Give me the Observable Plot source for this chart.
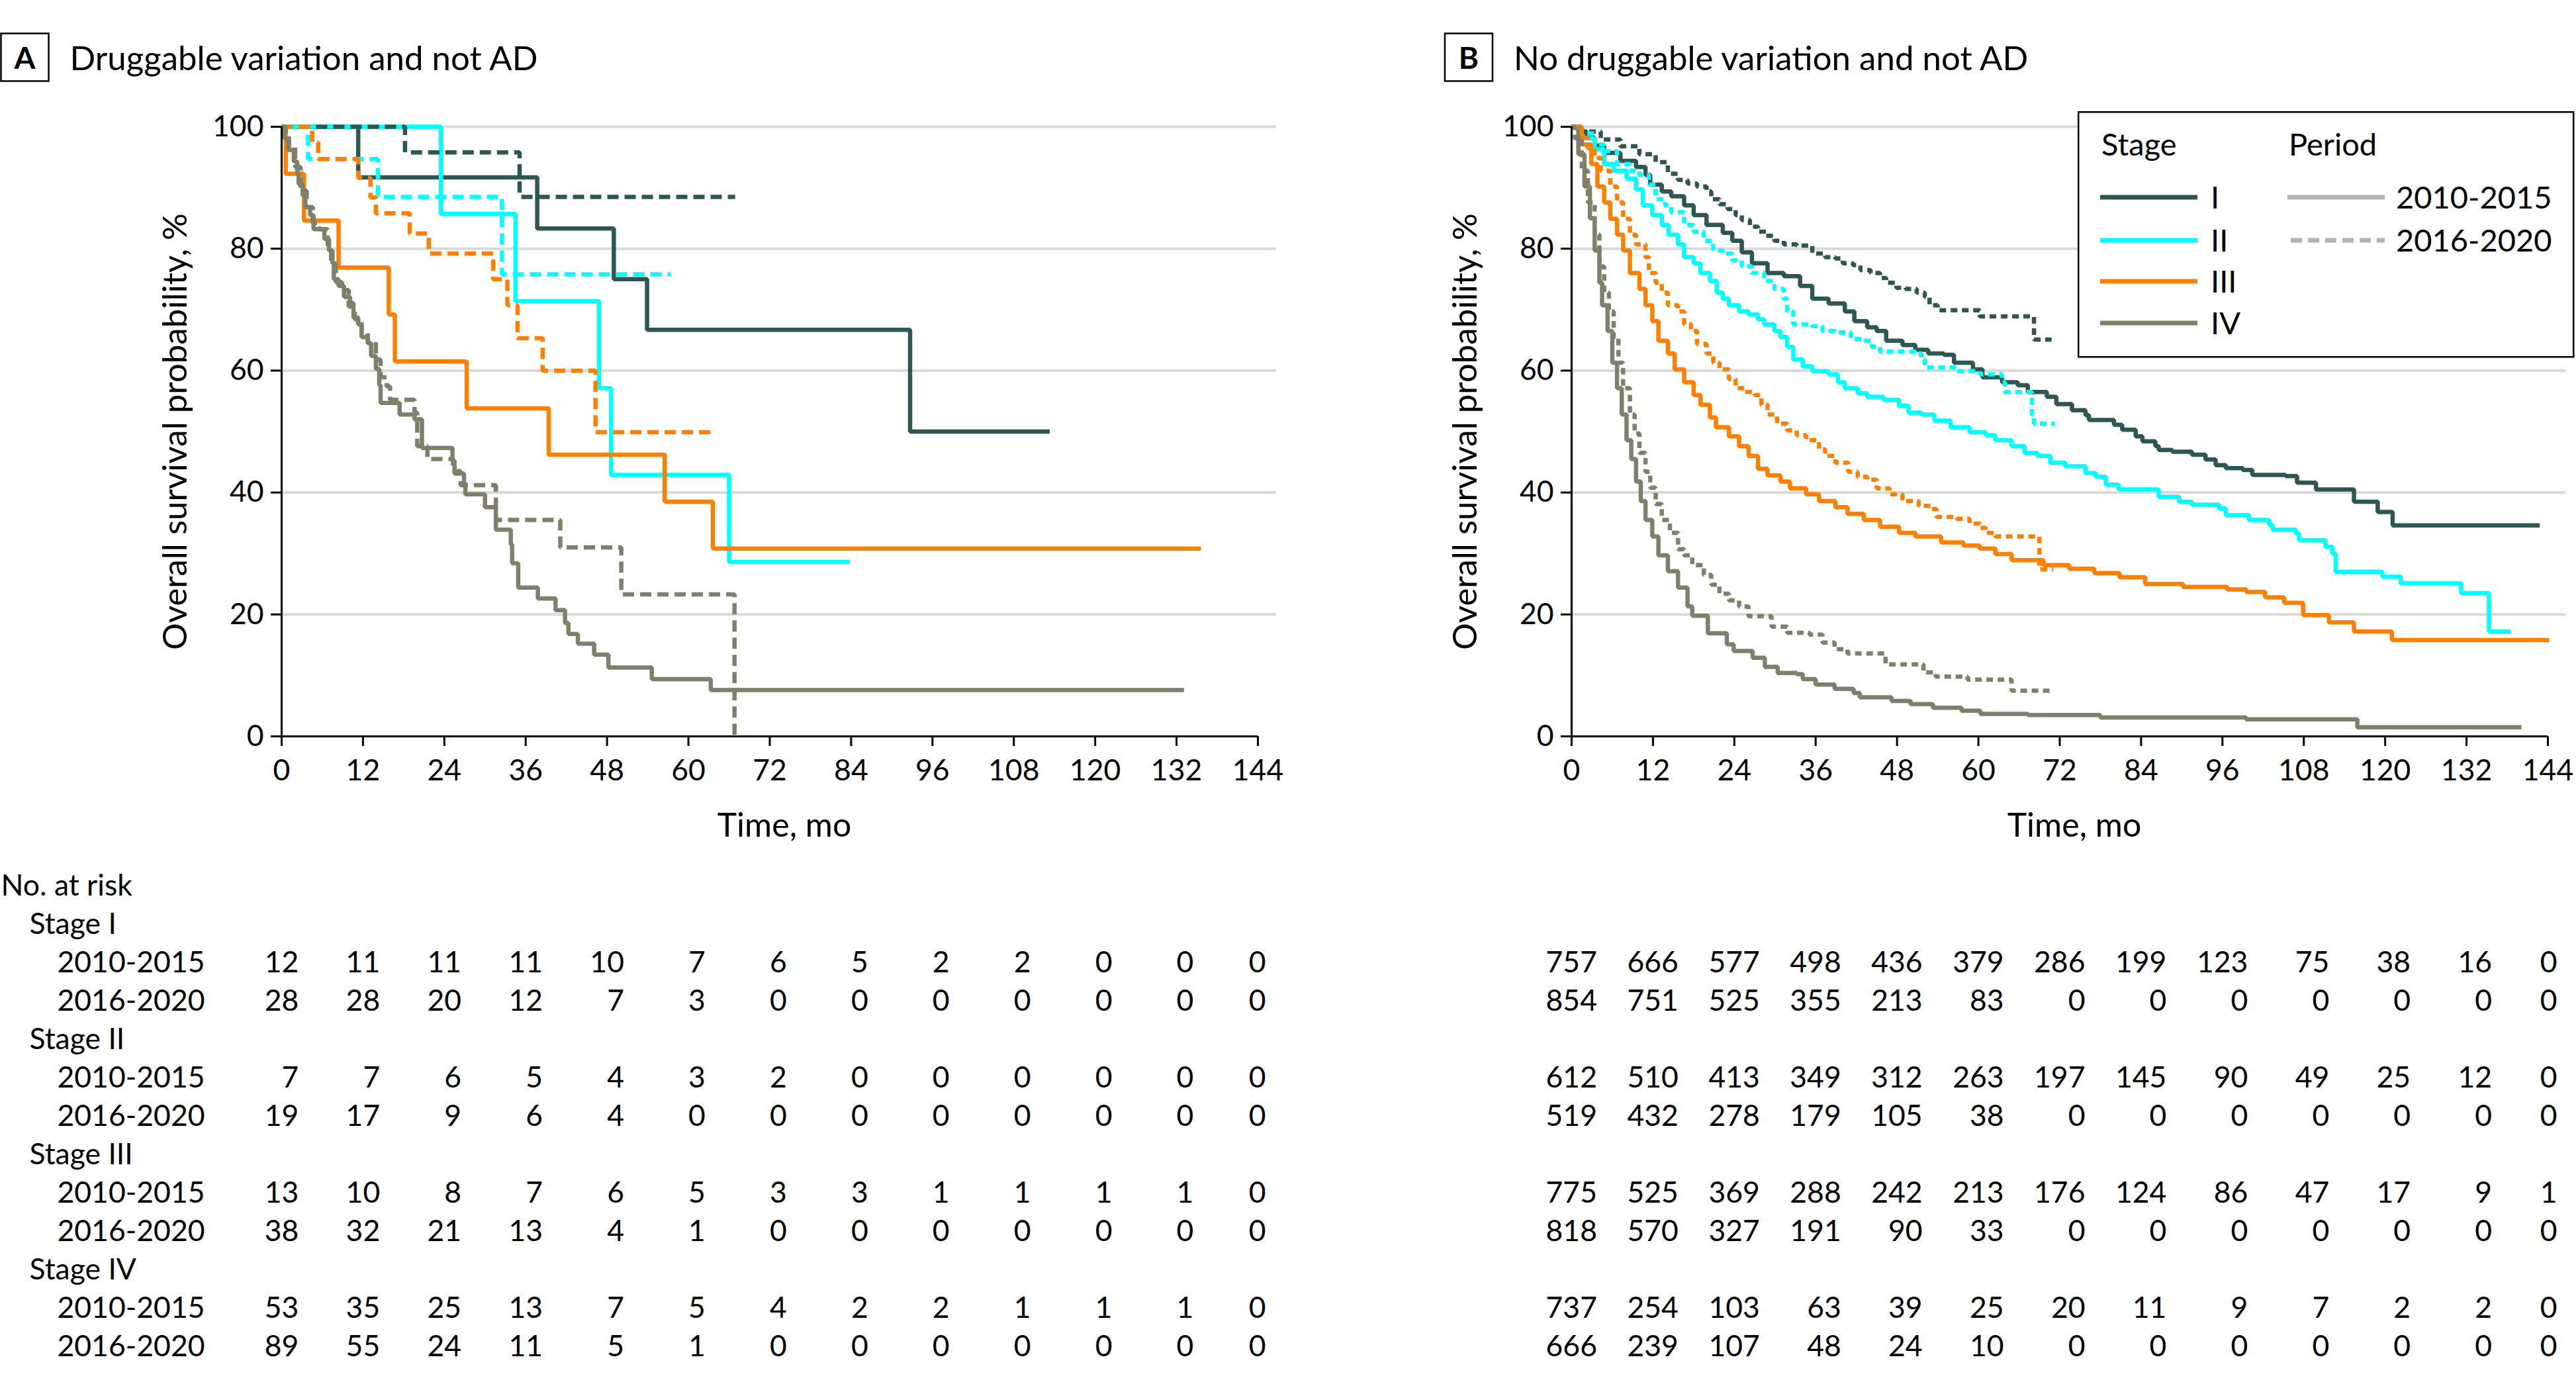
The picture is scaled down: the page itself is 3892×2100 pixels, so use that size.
<!DOCTYPE html>
<html>
<head>
<meta charset="utf-8">
<script src="https://cdn.jsdelivr.net/npm/d3@7"></script>
<script src="https://cdn.jsdelivr.net/npm/@observablehq/plot@0.6"></script>
<style>
  html, body { margin: 0; padding: 0; background: #fff; }
  #page { position: relative; width: 3892px; height: 2100px; overflow: hidden; background: #fff; font-family: Lato, sans-serif; }
  .abs { position: absolute; }
</style>
</head>
<body>
<div id="page"></div>
<script>
// ---------- axis ticks / categories ----------
const timeTicks = [0, 12, 24, 36, 48, 60, 72, 84, 96, 108, 120, 132, 144];
const survTicks = [0, 20, 40, 60, 80, 100];
const stages = ["I", "II", "III", "IV"];
const periods = ["2010-2015", "2016-2020"];
const stageColors = ["#2e5653", "#00ffff", "#ff8000", "#80806a"];
const periodColor = "#b3b3b3";
const titleA = "Druggable variation and not AD";
const titleB = "No druggable variation and not AD";

// ---------- Panel A curves: [month, survival %] ----------
const A_I_2010 = [[0,100],[11.3,91.7],[37.7,83.3],[49,75],[53.9,66.7],[92.7,50],[113.3,50]];
const A_I_2016 = [[0,100],[18.2,95.8],[35.1,88.5],[66.9,88.5]];
const A_II_2010 = [[0,100],[23.5,85.7],[34.5,71.4],[46.8,57.1],[48.6,42.9],[66,28.6],[83.8,28.6]];
const A_II_2016 = [[0,100],[3.9,94.7],[14.2,88.5],[32.5,75.8],[57.4,75.8]];
const A_III_2010 = [[0,100],[0.6,92.3],[3.3,84.6],[8.4,76.9],[15.8,69.2],[16.7,61.5],[27.3,53.8],[39.4,46.2],[56.5,38.5],[63.6,30.8],[135.6,30.8]];
const A_III_2016 = [[0,100],[4.5,97.4],[5.4,94.7],[11.3,91.6],[13.1,88.4],[13.9,85.8],[18.9,82.5],[21.7,79.2],[31.2,75.0],[33.3,70.7],[34.8,65.3],[38.5,60.0],[46.3,49.9],[63.3,49.9]];
const A_IV_2010 = [[0,100],[0.4,98.1],[1.0,96.2],[1.8,94.3],[2.3,92.5],[2.5,90.6],[3.1,88.7],[3.5,86.8],[4.2,85.5],[4.7,83.2],[6.3,81.6],[7.0,79.7],[7.5,77.6],[7.7,75.0],[8.4,73.9],[9.2,72.1],[10.1,71.1],[10.6,68.7],[11.3,67.6],[11.8,65.5],[12.7,64.5],[13.2,62.4],[13.9,60.3],[14.4,57.6],[14.6,54.7],[17.4,52.8],[19.6,52.0],[20.7,47.3],[25.2,45.2],[25.5,43.1],[26.9,41.5],[27.1,39.7],[30.0,37.6],[31.6,33.9],[33.8,31.5],[34.0,28.4],[34.9,24.4],[37.8,22.6],[40.4,20.7],[41.8,18.6],[42.3,16.8],[43.7,15.2],[46.1,13.4],[48.2,11.3],[54.6,9.4],[63.3,7.6],[133.1,7.6]];
const A_IV_2016 = [[0,100],[0.6,98.9],[1.1,96.6],[2.0,93.4],[2.8,89.5],[3.7,86.8],[4.6,84.2],[5.6,83.2],[6.8,80.5],[7.3,77.6],[8.0,74.5],[8.9,73.2],[9.9,70.5],[10.8,68.4],[11.8,66.3],[12.7,64.7],[13.9,61.8],[14.6,58.9],[15.5,57.4],[16.0,55.2],[19.6,53.1],[20.0,47.6],[21.5,45.5],[25.3,43.5],[26.4,41.2],[31.6,35.5],[41.1,31.0],[50.1,23.3],[66.8,0]];

// ---------- Panel B curves: [month, survival %] ----------
const B_I_2010 = [[0,100],[1.0,99.2],[2.2,98.2],[3.4,96.9],[4.8,95.7],[7.2,94.4],[9.5,93.4],[10.9,92.1],[11.6,90.5],[13.3,89.4],[14.7,88.6],[16.6,87.1],[18.0,85.5],[19.9,83.9],[22.3,82.6],[23.7,81.3],[25.1,79.4],[26.6,77.6],[28.9,76.0],[31.3,75.5],[33.7,73.9],[35.5,71.8],[37.9,71.0],[40.3,69.7],[41.7,68.1],[43.6,67.1],[45.0,66.5],[46.4,64.9],[48.8,64.2],[50.7,63.4],[52.6,62.8],[54.9,62.6],[56.4,61.3],[59.2,60.2],[60.6,58.9],[63.5,58.1],[65.8,57.6],[67.3,56.5],[70.1,55.7],[71.5,54.5],[73.8,53.5],[75.8,52.7],[76.3,51.9],[80.0,51.1],[81.2,50.3],[83.2,49.2],[84.2,48.4],[86.1,47.6],[86.6,47.0],[88.6,46.7],[91.5,46.2],[93.5,45.4],[95.0,44.5],[96.5,44.0],[99.0,43.7],[100.4,42.9],[105.3,42.7],[107.0,41.6],[109.8,40.5],[115.4,38.5],[118.9,36.8],[121.1,34.6],[142.8,34.6]];
const B_I_2016 = [[0,100],[1.5,99.2],[4.3,97.9],[7.2,96.8],[10.0,95.5],[12.4,94.2],[14.2,92.3],[15.7,91.3],[17.1,90.7],[18.5,90.2],[19.9,89.4],[20.6,88.1],[21.8,87.3],[23.0,86.5],[24.2,85.5],[25.1,84.7],[26.3,83.6],[27.5,82.8],[28.7,82.1],[29.9,81.3],[31.3,80.7],[33.2,80.5],[35.5,79.2],[37.4,78.6],[38.9,78.4],[40.0,77.6],[41.5,77.3],[42.6,76.5],[44.1,76.0],[45.5,75.2],[46.4,74.4],[47.9,73.6],[49.3,73.4],[50.9,72.8],[52.1,72.1],[52.8,70.7],[54.0,69.9],[60.2,68.9],[68.2,65.1],[70.8,65.1]];
const B_II_2010 = [[0,100],[1.5,98.1],[3.4,96.3],[4.8,93.9],[6.2,92.8],[8.1,91.5],[9.5,89.7],[10.5,87.1],[11.9,85.5],[13.3,83.9],[14.3,82.3],[15.7,80.7],[16.6,78.6],[18.0,77.6],[19.0,76.0],[20.4,74.7],[21.4,72.8],[22.3,71.8],[23.2,70.7],[24.7,69.7],[26.1,69.2],[27.5,68.4],[28.4,67.6],[29.9,66.5],[30.8,65.5],[31.8,63.9],[32.7,61.8],[34.1,60.7],[35.5,59.9],[37.9,59.4],[39.3,58.1],[40.3,57.1],[42.2,56.3],[43.6,55.7],[46.0,55.2],[48.3,54.2],[49.7,53.1],[51.6,52.8],[53.5,51.8],[55.9,50.7],[58.7,49.9],[61.1,49.4],[62.5,48.6],[64.9,47.6],[66.8,46.5],[68.7,46.0],[70.6,44.9],[72.8,44.3],[75.8,43.2],[77.3,42.6],[78.8,41.3],[80.7,40.5],[86.6,39.3],[89.6,38.5],[91.5,38.0],[95.5,37.4],[96.5,36.3],[99.9,35.5],[102.9,34.7],[103.4,33.9],[106.8,33.3],[107.3,32.2],[111.2,31.1],[112.2,30.0],[112.7,27.0],[119.6,26.2],[122.3,25.1],[131.2,23.5],[135.3,17.2],[138.5,17.2]];
const B_II_2016 = [[0,100],[1.5,98.9],[3.4,97.1],[4.8,96.0],[6.7,93.9],[8.6,92.8],[10.0,92.1],[11.4,90.5],[12.4,88.1],[13.8,87.1],[14.7,86.0],[16.6,83.9],[18.0,82.8],[19.5,81.3],[20.9,79.7],[22.3,79.2],[23.7,78.1],[25.1,77.1],[26.6,76.0],[28.4,74.7],[29.9,73.4],[31.3,71.8],[31.8,69.7],[32.7,67.6],[35.5,67.3],[37.0,66.5],[38.9,66.3],[41.2,65.2],[43.1,64.9],[44.3,63.9],[45.5,63.1],[50.7,62.8],[51.6,61.8],[52.1,60.5],[56.8,59.9],[60.2,59.4],[63.5,58.1],[63.9,56.5],[67.9,52.8],[68.2,51.3],[71.3,51.3]];
const B_III_2010 = [[0,100],[1.5,97.1],[2.9,93.9],[3.8,90.2],[4.8,87.6],[5.7,84.9],[6.7,82.3],[7.6,79.7],[8.6,76.0],[10.0,73.4],[10.9,70.7],[11.9,68.1],[12.8,64.9],[14.2,62.8],[15.2,60.2],[16.6,58.1],[18.0,56.0],[19.0,54.4],[20.4,52.3],[21.3,50.7],[23.2,49.2],[24.7,47.6],[26.1,46.0],[27.5,43.9],[28.9,42.8],[30.8,41.8],[32.2,40.7],[34.6,39.7],[36.5,38.6],[38.9,37.6],[40.7,36.5],[43.1,35.5],[45.5,34.4],[48.3,33.4],[50.7,32.8],[54.5,31.8],[57.8,31.3],[60.2,30.8],[62.5,29.9],[64.9,28.9],[69.6,28.1],[73.4,27.5],[77.1,26.8],[80.8,26.1],[84.6,25.0],[90.2,24.5],[96.7,24.1],[99.5,23.7],[102.3,22.8],[105.1,21.9],[107.9,19.9],[111.7,18.7],[115.4,17.2],[121.0,15.8],[144.2,15.8]];
const B_III_2016 = [[0,100],[1.5,98.2],[2.4,96.5],[3.4,94.9],[4.3,92.8],[5.7,90.2],[6.7,87.6],[7.6,84.9],[8.6,82.3],[9.5,80.7],[10.9,78.6],[11.4,76.0],[12.4,74.4],[13.3,72.8],[14.2,70.7],[15.7,69.7],[16.6,67.6],[17.6,66.5],[18.5,64.4],[19.9,62.8],[20.9,61.3],[21.8,60.2],[23.2,58.6],[24.2,57.1],[25.6,56.5],[27.0,56.0],[28.0,54.4],[28.9,52.8],[30.3,51.3],[31.8,50.2],[33.2,49.4],[34.6,48.6],[36.5,47.1],[37.4,46.0],[38.9,44.9],[40.8,43.4],[42.2,42.6],[43.6,42.1],[45.0,40.7],[46.9,39.7],[48.8,38.6],[51.2,37.8],[53.1,37.3],[53.8,36.0],[56.8,35.7],[58.7,34.9],[60.2,34.2],[61.1,33.4],[62.5,32.8],[69.0,27.4],[71.0,27.4]];
const B_IV_2010 = [[0,100],[1.0,95.5],[1.9,90.2],[2.7,85.0],[3.4,79.7],[4.1,74.4],[4.5,70.7],[5.3,66.5],[6.0,61.3],[6.7,57.1],[7.4,52.8],[8.1,48.6],[8.8,45.5],[9.5,41.8],[10.2,38.6],[10.9,35.5],[11.9,32.8],[12.8,29.7],[14.2,27.1],[15.7,24.4],[17.1,21.3],[17.8,19.8],[20.1,16.9],[22.9,15.1],[23.9,14.0],[26.7,12.9],[28.5,11.4],[30.4,10.4],[33.2,10.2],[34.1,9.4],[36.0,8.5],[38.8,7.8],[41.6,7.1],[42.5,6.4],[47.2,5.8],[50.0,5.3],[53.3,4.7],[57.5,4.2],[60.3,3.7],[67.3,3.5],[78.0,3.1],[99.5,2.8],[115.9,1.5],[140.1,1.5]];
const B_IV_2016 = [[0,100],[0.5,98.1],[1.5,92.8],[2.4,87.6],[3.4,82.3],[4.1,77.1],[4.8,72.8],[5.5,69.7],[6.2,65.5],[6.9,61.3],[7.6,57.1],[8.6,52.8],[9.3,49.7],[10.0,46.5],[10.9,43.4],[11.6,40.8],[12.4,38.1],[13.3,35.5],[14.5,33.4],[15.7,30.7],[16.6,29.7],[17.8,28.1],[19.5,26.5],[20.6,24.9],[21.8,23.4],[23.2,22.3],[24.7,21.3],[26.1,19.7],[29.5,18.0],[31.8,17.0],[35.1,16.7],[37.0,15.4],[38.8,14.3],[40.7,13.6],[46.3,11.8],[51.9,10.5],[53.7,9.8],[58.4,9.3],[64.9,7.5],[70.6,7.5]];

// ---------- Numbers at risk (columns = timeTicks) ----------
const riskA_I_2010   = [12, 11, 11, 11, 10, 7, 6, 5, 2, 2, 0, 0, 0];
const riskA_I_2016   = [28, 28, 20, 12, 7, 3, 0, 0, 0, 0, 0, 0, 0];
const riskA_II_2010  = [7, 7, 6, 5, 4, 3, 2, 0, 0, 0, 0, 0, 0];
const riskA_II_2016  = [19, 17, 9, 6, 4, 0, 0, 0, 0, 0, 0, 0, 0];
const riskA_III_2010 = [13, 10, 8, 7, 6, 5, 3, 3, 1, 1, 1, 1, 0];
const riskA_III_2016 = [38, 32, 21, 13, 4, 1, 0, 0, 0, 0, 0, 0, 0];
const riskA_IV_2010  = [53, 35, 25, 13, 7, 5, 4, 2, 2, 1, 1, 1, 0];
const riskA_IV_2016  = [89, 55, 24, 11, 5, 1, 0, 0, 0, 0, 0, 0, 0];
const riskB_I_2010   = [757, 666, 577, 498, 436, 379, 286, 199, 123, 75, 38, 16, 0];
const riskB_I_2016   = [854, 751, 525, 355, 213, 83, 0, 0, 0, 0, 0, 0, 0];
const riskB_II_2010  = [612, 510, 413, 349, 312, 263, 197, 145, 90, 49, 25, 12, 0];
const riskB_II_2016  = [519, 432, 278, 179, 105, 38, 0, 0, 0, 0, 0, 0, 0];
const riskB_III_2010 = [775, 525, 369, 288, 242, 213, 176, 124, 86, 47, 17, 9, 1];
const riskB_III_2016 = [818, 570, 327, 191, 90, 33, 0, 0, 0, 0, 0, 0, 0];
const riskB_IV_2010  = [737, 254, 103, 63, 39, 25, 20, 11, 9, 7, 2, 2, 0];
const riskB_IV_2016  = [666, 239, 107, 48, 24, 10, 0, 0, 0, 0, 0, 0, 0];

// ---------- assemble ----------
const curvesA = {I: [A_I_2010, A_I_2016], II: [A_II_2010, A_II_2016], III: [A_III_2010, A_III_2016], IV: [A_IV_2010, A_IV_2016]};
const curvesB = {I: [B_I_2010, B_I_2016], II: [B_II_2010, B_II_2016], III: [B_III_2010, B_III_2016], IV: [B_IV_2010, B_IV_2016]};
const riskA = {I: [riskA_I_2010, riskA_I_2016], II: [riskA_II_2010, riskA_II_2016], III: [riskA_III_2010, riskA_III_2016], IV: [riskA_IV_2010, riskA_IV_2016]};
const riskB = {I: [riskB_I_2010, riskB_I_2016], II: [riskB_II_2010, riskB_II_2016], III: [riskB_III_2010, riskB_III_2016], IV: [riskB_IV_2010, riskB_IV_2016]};

const FONT = "Lato, 'Open Sans', sans-serif";
const page = document.getElementById("page");

function place(node, left, top) {
  node.classList.add("abs");
  node.style.left = left + "px";
  node.style.top = top + "px";
  page.appendChild(node);
}

function rowsFor(curves, p) {
  return stages.flatMap(st => curves[st][p].map(([t, s]) => ({t, s, stage: st})));
}

function survivalPlot(curves, o) {
  return Plot.plot({
    width: o.width, height: 1150,
    marginLeft: o.ml, marginRight: o.mr, marginTop: 51, marginBottom: 178,
    style: {fontFamily: FONT, fontSize: "44.5px", background: "transparent", overflow: "visible", color: "#000"},
    x: {domain: [0, 144]},
    y: {domain: [0, 100]},
    color: {domain: stages, range: stageColors},
    marks: [
      Plot.ruleY(survTicks.filter(v => v > 0), {x1: 0, x2: 146.7, stroke: "#d9d9d9", strokeWidth: 4}),
      Plot.line(rowsFor(curves, 0), {x: "t", y: "s", z: "stage", stroke: "stage", curve: "step-after",
        strokeWidth: 6.5, strokeLinejoin: "miter", strokeLinecap: "butt"}),
      Plot.line(rowsFor(curves, 1), {x: "t", y: "s", z: "stage", stroke: "stage", curve: "step-after",
        strokeWidth: 6.5, strokeLinejoin: "miter", strokeLinecap: "butt", strokeDasharray: o.dash}),
      Plot.ruleX([0], {y1: 0, y2: 100, stroke: "#000", strokeWidth: 3}),
      Plot.ruleY([0], {x1: 0, x2: 144, stroke: "#000", strokeWidth: 3}),
      Plot.axisX({ticks: timeTicks, tickSize: 15, tickPadding: 20, strokeWidth: 3, label: null}),
      Plot.axisY({ticks: survTicks, tickSize: 16, tickPadding: 11, strokeWidth: 3, label: null}),
      Plot.text(["Overall survival probability, %"], {frameAnchor: "left", textAnchor: "middle", rotate: -90, dx: -160, fontSize: 51}),
      Plot.text(["Time, mo"], {frameAnchor: "bottom", textAnchor: "middle", lineAnchor: "bottom", dy: 151, dx: 22, fontSize: 50})
    ]
  });
}

const rowKeys = ["hdr"].concat(stages.flatMap(st => [st, st + "-0", st + "-1"]));

function riskPlot(risk, o) {
  const nums = stages.flatMap(st => [0, 1].flatMap(p => risk[st][p].map((n, i) => ({t: timeTicks[i], row: st + "-" + p, n: String(n)}))));
  const marks = [
    Plot.text(nums.filter(d => d.t < 144), {x: "t", y: "row", text: "n", textAnchor: "end", lineAnchor: "bottom", dx: o.dx}),
    Plot.text(nums.filter(d => d.t === 144), {x: "t", y: "row", text: "n", textAnchor: "end", lineAnchor: "bottom", dx: o.dxLast})
  ];
  if (o.labels) {
    marks.push(
      Plot.text([{row: "hdr", label: "No. at risk"}], {y: "row", text: "label", frameAnchor: "left", textAnchor: "start", lineAnchor: "bottom", dx: -o.ml + 1}),
      Plot.text(stages.map(st => ({row: st, label: "Stage " + st})), {y: "row", text: "label", frameAnchor: "left", textAnchor: "start", lineAnchor: "bottom", dx: -o.ml + 44}),
      Plot.text(stages.flatMap(st => periods.map((p, i) => ({row: st + "-" + i, label: p}))), {y: "row", text: "label", frameAnchor: "left", textAnchor: "start", lineAnchor: "bottom", dx: -o.ml + 86})
    );
  }
  return Plot.plot({
    width: o.width, height: 800,
    marginLeft: o.ml, marginRight: o.mr, marginTop: 54, marginBottom: 45,
    style: {fontFamily: FONT, fontSize: "44.5px", background: "transparent", overflow: "visible", color: "#000"},
    x: {domain: [0, 144], axis: null},
    y: {type: "point", domain: rowKeys, padding: 0, axis: null},
    marks
  });
}

// Panel A
place(survivalPlot(curvesA, {width: 1950, ml: 425, mr: 50, dash: "17,9"}), 0, 140);
place(riskPlot(riskA, {width: 1950, ml: 425, mr: 50, dx: 25.8, dxLast: 12, labels: true}), 0, 1295);
// Panel B
place(survivalPlot(curvesB, {width: 1942, ml: 424, mr: 43, dash: "10,7"}), 1950, 140);
place(riskPlot(riskB, {width: 1942, ml: 424, mr: 43, dx: 38.5, dxLast: 14, labels: false}), 1950, 1295);

// ---------- Titles ----------
const NS = "http://www.w3.org/2000/svg";
function el(tag, attrs, parent, text) {
  const e = document.createElementNS(NS, tag);
  for (const k in attrs) e.setAttribute(k, attrs[k]);
  if (text != null) e.textContent = text;
  if (parent) parent.appendChild(e);
  return e;
}
const tsvg = el("svg", {width: 3892, height: 140, "font-family": FONT});
[[1.5, "A", titleA], [2183, "B", titleB]].forEach(([x, letter, title]) => {
  el("rect", {x: x, y: 50.5, width: 72, height: 72, fill: "none", stroke: "#000", "stroke-width": 2.5}, tsvg);
  el("text", {x: x + 36, y: 104, "text-anchor": "middle", "font-size": 46, "font-weight": "bold"}, tsvg, letter);
  el("text", {x: x + 104, y: 106, "font-size": 51}, tsvg, title);
});
place(tsvg, 0, 0);

// ---------- Legend (panel B) ----------
const lsvg = el("svg", {width: 752, height: 374, "font-family": FONT, "font-size": 47});
el("rect", {x: 1.25, y: 1.25, width: 748, height: 370, fill: "#fff", stroke: "#000", "stroke-width": 2.5}, lsvg);
el("text", {x: 36, y: 67}, lsvg, "Stage");
el("text", {x: 319, y: 67}, lsvg, "Period");
const rowY = [130, 195, 257, 320];
stages.forEach((st, i) => {
  el("line", {x1: 34, x2: 181, y1: rowY[i], y2: rowY[i], stroke: stageColors[i], "stroke-width": 7}, lsvg);
  el("text", {x: 201, y: rowY[i] + 17}, lsvg, st);
});
periods.forEach((p, i) => {
  const a = {x1: i ? 322 : 317, x2: 464, y1: rowY[i], y2: rowY[i], stroke: periodColor, "stroke-width": 7};
  if (i) a["stroke-dasharray"] = "17,9";
  el("line", a, lsvg);
  el("text", {x: 481, y: rowY[i] + 17}, lsvg, p);
});
place(lsvg, 3139, 168);
</script>
</body>
</html>
